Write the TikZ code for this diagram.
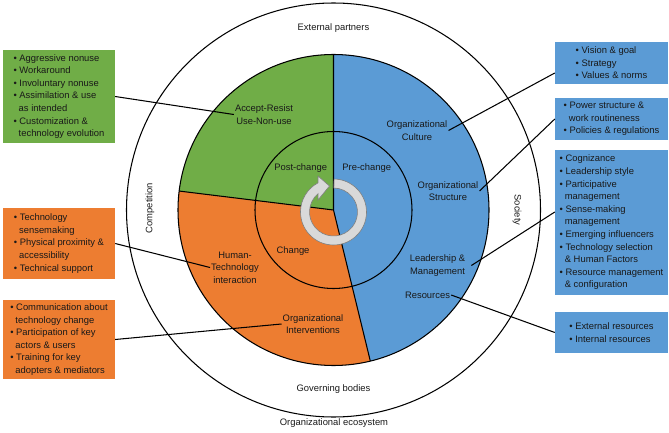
\documentclass[tikz,border=0pt]{standalone}
\usepackage{fontspec}
\setmainfont{Liberation Sans}
\usetikzlibrary{calc}
\definecolor{cblue}{RGB}{91,155,213}
\definecolor{cgreen}{RGB}{112,173,71}
\definecolor{corange}{RGB}{237,125,49}
\definecolor{cring}{RGB}{217,217,217}
\definecolor{cringline}{RGB}{127,127,127}
\definecolor{ctext}{RGB}{25,25,25}
\newcommand{\cont}{\hspace*{0.55em}}
\begin{document}
\begin{tikzpicture}[x=1pt,y=-1pt,
  every node/.style={font=\fontsize{9.4}{12.6}\selectfont, text=ctext, inner sep=1pt},
  lbl/.style={align=center},
  infobox/.style={align=left, inner sep=0pt, minimum width=113pt},
  gbox/.style={infobox, fill=cgreen},
  obox/.style={infobox, fill=corange},
  bbox/.style={infobox, fill=cblue},
  conn/.style={draw=black, line width=1.05pt},
  ringline/.style={draw=black, line width=1.05pt},
]
\useasboundingbox (0,0) rectangle (669,433);
\coordinate (O) at (333.5,210);
\coordinate (R) at (333.5,212);

% sectors
\fill[cblue] (O) -- ++(-90:155.5) arc[start angle=-90,end angle=76.3,radius=155.5] -- cycle;
\fill[corange] (O) -- ++(76.3:155.5) arc[start angle=76.3,end angle=187,radius=155.5] -- cycle;
\fill[cgreen] (O) -- ++(187:155.5) arc[start angle=187,end angle=270,radius=155.5] -- cycle;

\draw[ringline] (O) circle[radius=155.5];
\draw[ringline] (O) circle[radius=78.5];
\draw[ringline] (O) circle[radius=207];
\draw[ringline] (O) -- +(-90:155.5) (O) -- +(76.3:155.5) (O) -- +(187:155.5);

% cyclic arrow
\filldraw[fill=cring, draw=cringline, line width=0.6pt]
  ($(R)+(-89:33)$) arc[start angle=-89,end angle=242,radius=33]
  -- (318,176) -- (329.5,186) -- (318,200)
  -- ($(R)+(230:24)$) arc[start angle=230,end angle=-89,radius=24] -- cycle;

% labels in the circle
\node[lbl] (acc) at (264,114.5) {Accept-Resist\\Use-Non-use};
\node[lbl] (cult) at (417,130.5) {Organizational\\Culture};
\node[lbl] (struc) at (448,191) {Organizational\\Structure};
\node[lbl] (lead) at (437.5,265.5) {Leadership \&\\Management};
\node (res) at (427.5,295) {Resources};
\node[lbl] (hti) at (235,267.5) {Human-\\Technology\\interaction};
\node[lbl] (oi) at (313,324) {Organizational\\Interventions};
\node (post) at (300.7,168) {Post-change};
\node (pre) at (366.7,168) {Pre-change};
\node (chg) at (293,250.7) {Change};
\node (ext) at (333.5,28) {External partners};
\node (gov) at (333.5,389) {Governing bodies};
\node (eco) at (334,423) {Organizational ecosystem};
\node[rotate=90] (comp) at (150,208) {Competition};
\node[rotate=-90] (soc) at (517,210) {Society};

% boxes
\node[gbox, minimum width=112pt, minimum height=93pt] (G1) at (59,96.5)
  {• Aggressive nonuse\\• Workaround\\• Involuntary nonuse\\• Assimilation \& use\\\cont as intended\\• Customization \&\\\cont technology evolution};
\node[obox, minimum width=112pt, minimum height=71pt] (O1) at (59,243.5)
  {• Technology\\\cont sensemaking\\• Physical proximity \&\\\cont accessibility\\• Technical support};
\node[obox, minimum width=112pt, minimum height=79pt] (O2) at (59,339.5)
  {• Communication about\\\cont technology change\\• Participation of key\\\cont actors \& users\\• Training for key\\\cont adopters \& mediators};
\node[bbox, minimum height=42pt] (B1) at (611.5,63)
  {• Vision \& goal\\• Strategy\\• Values \& norms};
\node[bbox, minimum height=42pt] (B2) at (611.5,119)
  {• Power structure \&\\\cont work routineness\\• Policies \& regulations};
\node[bbox, minimum height=145pt] (B3) at (611.5,222.5)
  {• Cognizance\\• Leadership style\\• Participative\\\cont management\\• Sense-making\\\cont management\\• Emerging influencers\\• Technology selection\\\cont \& Human Factors\\• Resource management\\\cont \& configuration};
\node[bbox, minimum height=41pt] (B4) at (611.5,332.5)
  {• External resources\\• Internal resources};

% connectors
\draw[conn] (G1.east) -- (acc.west);
\draw[conn] ([yshift=-10pt]B1.west) -- (cult.east);
\draw[conn] (B2.west) -- (struc.east);
\draw[conn] ([yshift=10.5pt]B3.west) -- ([xshift=5pt]lead.east);
\draw[conn] (B4.west) -- (res.east);
\draw[conn] (O1.east) -- (hti.west);
\draw[conn] (O2.east) -- (oi.west);
\end{tikzpicture}
\end{document}
